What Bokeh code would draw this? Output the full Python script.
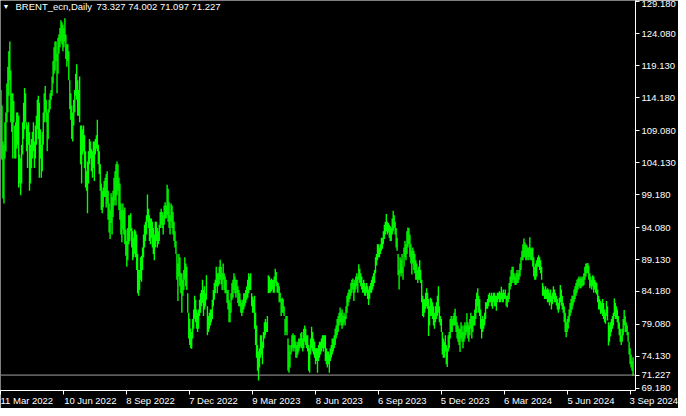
from bokeh.plotting import figure
from bokeh.models import Range1d, FixedTicker, NumeralTickFormatter, Label, Span, ColumnDataSource
from bokeh.embed import file_html
from bokeh.resources import INLINE

symbol = "BRENT_ecn,Daily"
last_ohlc = "73.327 74.002 71.097 71.227"
last_close = 71.227
price_ticks = [129.18, 124.08, 119.13, 114.18, 109.08, 104.13, 99.18, 94.08, 89.13, 84.18, 79.08, 74.13, 69.18]
date_idx = [0, 64, 128, 192, 256, 320, 384, 448, 512, 576, 640]
date_labels = ["11 Mar 2022", "10 Jun 2022", "8 Sep 2022", "7 Dec 2022", "9 Mar 2023", "8 Jun 2023",
               "6 Sep 2023", "5 Dec 2023", "6 Mar 2024", "5 Jun 2024", "3 Sep 2024"]

# daily highs / lows read bar by bar
high_a = [115.4, 113.0, 107.4, 106.9, 110.4, 111.9, 116.4, 119.0, 121.4, 122.9,
          118.4, 114.9, 114.9, 113.7, 109.9, 110.4, 111.9, 111.9, 111.4, 105.4,
          104.8, 106.9, 110.4, 113.4, 115.7, 114.9, 110.4, 109.9, 110.4, 108.9,
          106.9, 107.8, 108.9, 110.4, 107.4, 109.9, 111.4, 113.9, 114.5, 113.4,
          109.3, 106.9, 108.9, 111.9, 114.9, 116.0, 113.9, 111.9, 112.4, 113.9,
          114.9, 115.4, 117.5, 119.9, 122.0, 122.9, 122.9, 121.0, 123.5, 124.0,
          125.0, 126.2, 125.9, 125.5, 125.0, 126.5, 124.0, 122.5, 122.5, 121.4,
          116.9, 114.9, 113.0, 111.9, 113.9, 115.4, 117.9, 119.4, 116.9, 115.4,
          117.5, 109.9, 109.9, 109.3, 109.9, 108.4, 105.9, 102.8, 104.3, 105.9,
          107.8, 107.4, 106.3, 105.9, 107.4, 107.4, 107.8, 108.4, 110.8, 106.9,
          105.9, 103.9, 100.9, 99.8, 100.3, 101.3, 101.8, 102.4, 102.8, 99.8,
          97.8, 96.8, 99.4, 98.8, 99.8, 101.8, 102.8, 103.9, 104.3, 103.9,
          101.8, 100.9, 97.8, 96.8, 97.8, 96.8, 97.2, 93.8]
low_a = [104.8, 104.6, 98.6, 97.8, 104.8, 105.9, 110.4, 111.9, 114.5, 116.9,
         110.4, 108.9, 104.8, 110.4, 104.8, 104.8, 106.3, 106.9, 100.3, 100.9,
         99.1, 100.9, 105.4, 107.8, 109.3, 110.4, 105.9, 103.3, 106.9, 99.8,
         100.9, 103.3, 104.8, 105.9, 103.3, 104.8, 106.9, 109.3, 107.8, 101.8,
         104.8, 101.8, 102.8, 106.9, 110.4, 111.9, 110.4, 105.9, 107.8, 111.9,
         112.4, 113.9, 114.5, 116.4, 117.9, 118.4, 119.9, 114.9, 117.9, 121.0,
         122.0, 122.9, 122.5, 121.4, 122.0, 122.9, 120.2, 119.0, 119.9, 116.9,
         112.4, 110.8, 107.8, 107.4, 109.9, 111.9, 114.5, 113.9, 111.4, 111.4,
         110.4, 103.9, 100.9, 105.4, 105.9, 103.3, 100.3, 99.8, 96.3, 100.9,
         103.9, 104.8, 102.8, 101.8, 103.3, 101.3, 105.4, 106.3, 105.9, 103.9,
         102.4, 99.8, 96.8, 96.3, 97.2, 98.8, 98.8, 97.2, 97.8, 95.3,
         93.3, 92.3, 94.8, 93.0, 95.7, 97.5, 98.3, 97.5, 99.1, 99.8,
         96.8, 95.3, 93.0, 91.8, 93.8, 93.0, 91.5, 89.7]

high_b = [92.0, 94.0, 96.0, 96.0, 96.3, 94.0, 93.5, 92.5, 93.8, 93.5,
          93.0, 90.0, 87.5, 87.5, 89.5, 89.7, 91.0, 93.0, 94.5, 95.0,
          96.0, 99.2, 97.0, 96.0, 95.5, 95.5, 95.0, 94.0, 93.0, 95.0,
          95.0, 94.0, 93.5, 94.5, 96.5, 97.0, 96.5, 96.0, 97.5, 98.0,
          97.5, 100.7, 100.1, 98.0, 96.0, 97.8, 97.5, 96.5, 95.0, 93.5,
          92.0, 90.0, 88.5, 90.0, 89.5, 87.0, 87.0, 86.0, 87.5, 89.5,
          88.5, 88.0, 83.9, 80.9, 79.9, 78.4, 77.9, 79.9, 81.4, 83.5,
          82.9, 81.4, 80.9, 81.4, 82.9, 83.9, 84.4, 86.0, 84.4, 85.0,
          83.9, 86.7, 81.9, 80.4, 80.9, 81.4, 81.4, 82.9, 84.4, 85.5,
          86.0, 88.0, 87.0, 87.0, 88.0, 89.1, 88.0, 87.0, 88.5, 87.0,
          86.5, 86.0, 84.4, 84.4, 82.9, 82.4, 83.9, 85.5, 86.0, 87.0,
          86.5, 86.0, 86.0, 85.0, 84.4, 83.9, 82.9, 82.4, 82.9, 83.9,
          83.9, 84.4, 85.0, 86.0, 87.0, 86.5, 87.0, 83.9, 83.4, 82.9]
low_b = [88.0, 89.0, 91.5, 92.0, 93.5, 91.0, 89.0, 89.5, 90.0, 89.5,
         87.5, 83.9, 83.5, 84.4, 86.0, 85.7, 87.5, 89.5, 91.0, 92.0,
         93.0, 95.0, 94.0, 92.0, 91.5, 92.5, 91.0, 90.0, 89.0, 91.0,
         92.0, 91.0, 91.5, 92.0, 94.0, 94.5, 94.0, 93.0, 94.5, 95.5,
         95.5, 96.0, 95.0, 94.0, 93.0, 95.0, 94.0, 93.0, 92.0, 91.0,
         90.0, 86.0, 82.7, 86.5, 85.0, 83.9, 80.9, 83.5, 84.4, 86.0,
         85.0, 84.4, 80.9, 76.9, 75.9, 75.4, 75.3, 76.9, 78.4, 79.9,
         79.4, 78.4, 77.9, 78.4, 80.4, 80.9, 81.9, 82.4, 80.4, 81.4,
         81.9, 82.9, 77.4, 77.9, 78.4, 78.9, 79.4, 79.9, 81.9, 82.9,
         83.9, 85.0, 83.9, 85.0, 85.3, 86.0, 85.3, 84.4, 86.0, 84.4,
         83.9, 83.9, 82.4, 81.4, 79.4, 79.4, 80.9, 82.9, 83.2, 84.4,
         83.9, 83.2, 83.9, 82.4, 81.9, 81.9, 80.9, 80.4, 80.9, 81.4,
         81.9, 82.4, 82.9, 83.2, 83.9, 84.4, 84.4, 81.9, 80.9, 80.9]

high_c = [83.5, 80.9, 78.9, 75.9, 74.9, 75.4, 77.4, 77.4, 76.4, 77.9,
          79.4, 79.9, 79.4, 80.4, 86.7, 86.5, 86.0, 86.2, 86.0, 86.0,
          86.5, 87.7, 87.2, 85.7, 85.5, 85.0, 84.0, 83.0, 83.2, 83.0,
          81.9, 79.9, 80.4, 80.4, 76.9, 75.9, 74.9, 75.9, 77.4, 77.7,
          77.4, 77.4, 76.4, 75.9, 76.4, 76.9, 76.9, 77.7, 77.9, 76.9,
          78.4, 78.9, 78.4, 77.4, 77.4, 75.9, 75.4, 76.9, 78.7, 77.9,
          76.9, 76.4, 75.4, 75.4, 75.4, 75.9, 76.4, 76.4, 76.9, 77.4,
          77.4, 77.4, 77.4, 75.4, 74.9, 74.9, 74.4, 75.4, 75.9, 76.9,
          76.9, 77.4, 78.4, 78.9, 79.9, 80.4, 80.9, 81.7, 80.9, 81.4,
          80.4, 80.9, 80.4, 81.9, 83.5, 84.0, 84.5, 84.5, 85.5, 86.0,
          86.2, 85.5, 86.0, 86.5, 87.0, 86.5, 88.4, 87.7, 87.0, 86.5,
          85.5, 86.0, 85.5, 85.0, 85.5, 85.0, 84.5, 85.0, 85.5, 86.0,
          86.5, 87.0, 87.5, 89.5, 90.0, 91.5, 91.5, 91.0, 91.5, 92.5]
low_c = [78.4, 75.9, 73.9, 71.9, 70.4, 72.4, 73.9, 74.4, 72.9, 75.4,
         76.9, 77.4, 77.9, 77.9, 83.9, 84.0, 84.0, 84.2, 84.5, 84.0,
         84.0, 85.5, 85.0, 84.0, 84.0, 82.5, 82.5, 80.4, 80.9, 80.9,
         80.4, 77.4, 77.9, 77.4, 71.9, 71.6, 72.4, 74.4, 74.9, 75.4,
         74.9, 75.4, 73.9, 73.9, 74.4, 74.9, 75.4, 75.7, 75.4, 74.9,
         75.4, 76.4, 75.9, 75.4, 74.9, 71.9, 71.6, 74.4, 75.4, 74.9,
         74.4, 73.9, 72.9, 73.4, 71.6, 73.4, 73.9, 74.4, 74.9, 75.4,
         74.9, 75.4, 73.4, 72.9, 72.4, 72.9, 71.6, 73.4, 73.9, 74.4,
         74.9, 75.4, 75.9, 76.9, 77.4, 77.9, 78.9, 79.4, 78.9, 78.4,
         78.9, 79.4, 78.9, 79.9, 80.9, 81.9, 82.5, 83.0, 83.5, 84.0,
         84.5, 82.7, 84.0, 84.5, 85.0, 84.0, 86.0, 85.5, 85.0, 84.5,
         84.0, 84.0, 83.5, 83.5, 84.0, 83.0, 82.1, 83.0, 84.0, 84.0,
         84.5, 85.0, 85.5, 87.0, 88.2, 89.0, 89.5, 89.5, 90.0, 90.5]

high_d = [92.5, 93.5, 94.5, 95.0, 96.2, 95.0, 94.8, 94.5, 94.3, 94.0,
          95.5, 96.7, 96.0, 95.0, 94.0, 92.5, 90.0, 87.5, 89.5, 89.0,
          90.0, 88.0, 91.0, 92.0, 91.5, 93.5, 94.1, 94.0, 93.0, 91.5,
          90.5, 91.0, 90.5, 90.0, 89.0, 88.5, 87.5, 88.0, 89.0, 87.5,
          86.0, 83.5, 83.0, 83.0, 84.0, 84.7, 84.0, 83.0, 81.9, 83.2,
          83.0, 82.5, 81.9, 80.9, 81.9, 82.5, 83.5, 85.0, 81.9, 80.4,
          79.9, 77.9, 76.9, 76.4, 77.4, 75.9, 75.4, 77.4, 77.9, 79.9,
          80.4, 79.9, 80.4, 80.9, 81.5, 80.4, 79.4, 78.9, 78.4, 78.4,
          79.4, 78.9, 77.9, 78.9, 79.4, 78.9, 80.8, 79.4, 78.9, 79.9,
          80.9, 80.4, 80.4, 80.4, 81.4, 83.0, 84.0, 84.7, 83.5, 83.0,
          81.4, 79.9, 80.4, 79.9, 80.9, 82.5, 82.5, 83.0, 83.7, 84.0,
          83.5, 84.0, 83.5, 84.0, 84.0, 83.5, 83.5, 84.0, 84.0, 84.2,
          84.0, 84.9, 84.0, 84.5, 84.0, 84.5, 83.5, 83.5, 84.0, 85.5]
low_d = [90.8, 91.5, 92.3, 93.0, 93.5, 93.0, 93.3, 92.5, 92.0, 92.0,
         93.0, 93.5, 94.0, 93.0, 91.0, 90.5, 86.7, 84.5, 87.0, 86.5,
         87.0, 86.0, 88.0, 89.5, 89.0, 90.0, 91.0, 91.5, 89.5, 88.5,
         86.8, 88.5, 87.5, 87.0, 86.0, 86.0, 85.5, 86.0, 86.0, 85.5,
         82.5, 80.4, 80.2, 80.9, 81.5, 81.9, 81.5, 77.3, 78.9, 80.4,
         80.4, 79.9, 78.9, 78.4, 79.4, 79.9, 80.4, 80.9, 79.4, 78.9,
         77.9, 74.4, 73.9, 73.9, 74.9, 72.9, 72.5, 74.9, 75.4, 76.9,
         77.9, 77.9, 78.9, 78.9, 78.9, 77.9, 76.9, 76.4, 75.9, 74.8,
         76.9, 76.4, 75.4, 76.4, 76.9, 77.4, 77.9, 76.9, 76.4, 77.4,
         78.4, 76.9, 77.9, 78.9, 78.9, 79.9, 80.9, 81.9, 80.9, 80.4,
         78.4, 76.9, 77.9, 78.4, 78.9, 79.9, 81.5, 81.5, 81.9, 82.5,
         82.5, 81.9, 81.5, 82.5, 81.9, 81.9, 81.2, 82.5, 83.0, 82.5,
         82.5, 83.0, 82.5, 82.5, 83.0, 83.0, 81.9, 81.7, 82.5, 83.0]

high_e = [86.5, 87.5, 88.0, 88.0, 87.0, 86.5, 87.0, 87.5, 87.0, 87.5,
          88.5, 89.5, 90.5, 91.5, 92.4, 91.8, 91.5, 91.3, 91.0, 91.0,
          92.6, 91.0, 90.8, 91.0, 89.5, 88.0, 88.5, 89.0, 89.5, 89.8,
          89.5, 89.0, 88.0, 85.5, 85.0, 84.5, 85.0, 84.5, 84.7, 84.5,
          84.0, 84.5, 83.5, 84.0, 85.0, 84.5, 84.0, 83.5, 83.0, 82.4,
          83.2, 85.2, 84.5, 83.5, 82.4, 81.9, 80.9, 79.4, 79.9, 80.4,
          81.4, 82.4, 83.0, 83.5, 83.5, 84.5, 85.0, 85.5, 86.0, 86.2,
          86.5, 86.2, 86.5, 86.2, 86.5, 87.0, 88.0, 88.5, 88.5, 88.6,
          88.2, 87.0, 86.5, 86.0, 86.7, 86.5, 86.0, 85.7, 85.5, 84.5,
          83.5, 83.0, 82.7, 82.4, 83.0, 82.4, 81.4, 80.9, 82.7, 81.9,
          79.4, 78.9, 79.4, 79.9, 80.4, 80.9, 83.1, 82.4, 81.9, 81.4,
          80.4, 79.4, 78.4, 77.4, 78.4, 79.9, 81.3, 80.4, 79.4, 78.9,
          77.9, 76.4, 75.4, 74.4, 73.4, 74.002]
low_e = [84.5, 85.0, 85.5, 86.0, 85.5, 85.2, 85.2, 85.5, 85.5, 86.0,
         86.5, 87.5, 89.0, 89.0, 89.5, 89.5, 89.0, 89.0, 89.5, 89.0,
         89.5, 89.0, 89.0, 88.0, 86.5, 86.0, 86.0, 86.5, 88.0, 88.0,
         87.5, 87.0, 86.0, 83.5, 83.5, 83.0, 83.0, 83.0, 82.5, 82.5,
         82.0, 82.5, 81.4, 82.2, 83.0, 82.5, 82.5, 82.0, 81.4, 80.9,
         81.4, 82.5, 82.0, 81.4, 80.9, 79.4, 77.9, 77.1, 77.9, 78.4,
         79.4, 80.4, 80.9, 81.4, 82.0, 82.5, 83.0, 83.5, 84.0, 84.5,
         85.0, 84.7, 84.7, 85.0, 85.0, 85.2, 86.0, 86.5, 87.0, 87.0,
         86.0, 84.7, 85.0, 84.5, 85.0, 84.0, 84.5, 84.0, 83.7, 82.5,
         81.4, 81.4, 80.7, 80.9, 80.4, 79.9, 79.4, 79.2, 80.4, 79.7,
         75.8, 76.4, 77.2, 77.9, 78.4, 78.9, 80.4, 79.9, 79.9, 79.4,
         78.4, 77.4, 76.4, 75.9, 76.4, 77.4, 78.9, 77.9, 77.9, 77.4,
         76.4, 74.4, 72.9, 72.4, 71.9, 71.097]

high = high_a + high_b + high_c + high_d + high_e
low = low_a + low_b + low_c + low_d + low_e
src = ColumnDataSource(dict(x=list(range(len(high))), high=high, low=low))

FONT = "Liberation Sans"
FS = "9.5px"

# approximate glyph widths (em) to left-align date labels on their ticks
_W = {" ": 0.278, "M": 0.833, "a": 0.556, "r": 0.333, "J": 0.5, "u": 0.556, "n": 0.556,
      "S": 0.667, "e": 0.556, "p": 0.556, "D": 0.722, "c": 0.5}
def left_aligned(t):
    em = sum(_W.get(ch, 0.556) for ch in t)
    return "\u00a0" * int(round(em / 0.278)) + t

# the first label is pushed inside the plot edge by Bokeh itself, so it needs no padding
overrides = {date_idx[0]: date_labels[0]}
overrides.update({i: left_aligned(t) for i, t in zip(date_idx[1:], date_labels[1:])})

p = figure(width=678, height=408, output_backend="svg", toolbar_location=None,
           x_range=Range1d(-0.5, 645.5), y_range=Range1d(68.84, 129.26),
           x_axis_location="below", y_axis_location="right",
           background_fill_color="black", border_fill_color="black",
           min_border_left=0, min_border_top=0, min_border_right=42, min_border_bottom=16)
p.outline_line_color = None
p.grid.visible = False

p.vbar(x="x", top="high", bottom="low", width=1.4, source=src,
       fill_color="#00ff00", line_color=None)

p.add_layout(Span(location=last_close, dimension="width", line_color="#a0a0a0", line_width=1))

yax = p.yaxis[0]
yax.ticker = FixedTicker(ticks=price_ticks + [last_close])
yax.formatter = NumeralTickFormatter(format="0.000")
yax.axis_line_color = "white"
yax.major_tick_line_color = "white"
yax.major_tick_in = 0
yax.major_tick_out = 4
yax.minor_tick_line_color = None
yax.major_label_standoff = 2
yax.major_label_text_font = FONT
yax.major_label_text_font_size = FS
yax.major_label_text_color = "white"

xax = p.xaxis[0]
xax.ticker = FixedTicker(ticks=date_idx)
xax.major_label_overrides = overrides
xax.axis_line_color = "white"
xax.major_tick_line_color = "white"
xax.major_tick_in = 0
xax.major_tick_out = 4
xax.minor_tick_line_color = None
xax.major_label_standoff = 0
xax.major_label_text_font = FONT
xax.major_label_text_font_size = FS
xax.major_label_text_color = "white"

p.add_layout(Label(x=2, y=384, x_units="screen", y_units="screen", text="\u25bc",
                   text_font=FONT, text_font_size="7px", text_color="white",
                   text_align="left", text_baseline="middle"))
p.add_layout(Label(x=15, y=384, x_units="screen", y_units="screen", text=symbol,
                   text_font=FONT, text_font_size=FS, text_color="white",
                   text_align="left", text_baseline="middle"))
p.add_layout(Label(x=96, y=384, x_units="screen", y_units="screen", text=last_ohlc,
                   text_font=FONT, text_font_size=FS, text_color="white",
                   text_align="left", text_baseline="middle"))

open("out.html", "w").write(file_html(p, INLINE))
